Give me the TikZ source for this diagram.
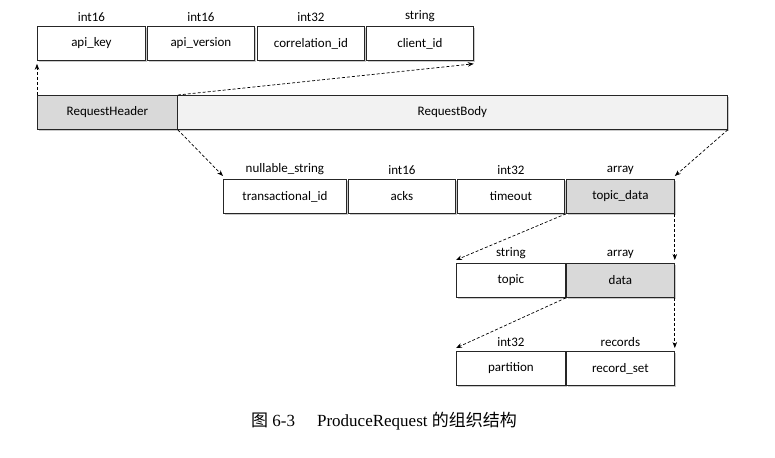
\documentclass[tikz,border=0pt]{standalone}
\usepackage{fontspec}
\setmainfont{Liberation Serif}
\newfontfamily\fieldfont{Carlito}
\newfontfamily\cjk{Noto Sans CJK SC}
\usetikzlibrary{arrows.meta,shadows}
\definecolor{hdrgray}{HTML}{D9D9D9}
\definecolor{bodygray}{HTML}{F2F2F2}
\tikzset{
  fld/.style={draw=black!85, line width=0.8pt, fill=white, rectangle, inner sep=0pt,
    minimum height=34pt, anchor=north west, font=\fieldfont\fontsize{13}{15}\selectfont,
    drop shadow={shadow xshift=1.5pt, shadow yshift=-1.5pt, opacity=0.35, fill=black!60}},
  grayfld/.style={fld, fill=hdrgray},
  typ/.style={anchor=south, inner sep=0pt, yshift=4pt, font=\fieldfont\fontsize{13}{15}\selectfont},
  link/.style={dashed, dash pattern=on 3pt off 2pt, line width=0.7pt,
    -{Stealth[length=6pt,width=4.5pt]}},
}
\begin{document}
\begin{tikzpicture}[x=1pt,y=-1pt]
\useasboundingbox (0,0) rectangle (775,457);

% header fields
\node[fld, minimum width=108pt] (apikey) at (37,26) {api\_key};
\node[fld, minimum width=107pt] (apiver) at (147,26) {api\_version};
\node[fld, minimum width=107pt] (corr) at (257,26) {correlation\_id};
\node[fld, minimum width=107pt] (client) at (366,26) {client\_id};
\node[typ] at (apikey.north) {int16};
\node[typ] at (apiver.north) {int16};
\node[typ] at (corr.north) {int32};
\node[typ] at (client.north) {string};

% request
\node[grayfld, minimum width=140pt] (rh) at (37,95) {RequestHeader};
\node[fld, fill=bodygray, minimum width=550pt] (rb) at (177,95) {RequestBody};

% body fields
\node[fld, minimum width=123pt] (txid) at (223,179) {transactional\_id};
\node[fld, minimum width=107pt] (acks) at (348,179) {acks};
\node[fld, minimum width=107pt] (tmo) at (457,179) {timeout};
\node[grayfld, minimum width=108pt] (tdata) at (566,179) {topic\_data};
\node[typ] at (txid.north) {nullable\_string};
\node[typ] at (acks.north) {int16};
\node[typ] at (tmo.north) {int32};
\node[typ] at (tdata.north) {array};

% topic_data fields
\node[fld, minimum width=109pt] (topic) at (456,263) {topic};
\node[grayfld, minimum width=108pt] (data) at (566,263) {data};
\node[typ] at (topic.north) {string};
\node[typ] at (data.north) {array};

% data fields
\node[fld, minimum width=109pt] (part) at (456,351) {partition};
\node[fld, minimum width=108pt] (rset) at (566,351) {record\_set};
\node[typ] at (part.north) {int32};
\node[typ] at (rset.north) {records};

% expansion links
\draw[link] (rh.north west) -- ([yshift=-3pt]apikey.south west);
\draw[link] (rh.north east) -- ([yshift=-3pt]client.south east);
\draw[link] (rh.south east) -- ([yshift=3pt]txid.north west);
\draw[link] (rb.south east) -- ([yshift=3pt]tdata.north east);
\draw[link] (tdata.south west) -- ([yshift=3pt]topic.north west);
\draw[link] (tdata.south east) -- ([yshift=3pt]data.north east);
\draw[link] (data.south west) -- ([yshift=3pt]part.north west);
\draw[link] (data.south east) -- ([yshift=3pt]rset.north east);

% caption
\node[font=\fontsize{17}{19}\selectfont] (cap) at (384,421) {{\cjk 图} 6-3\hspace{1.3em}ProduceRequest {\cjk 的组织结构}};
\end{tikzpicture}
\end{document}
